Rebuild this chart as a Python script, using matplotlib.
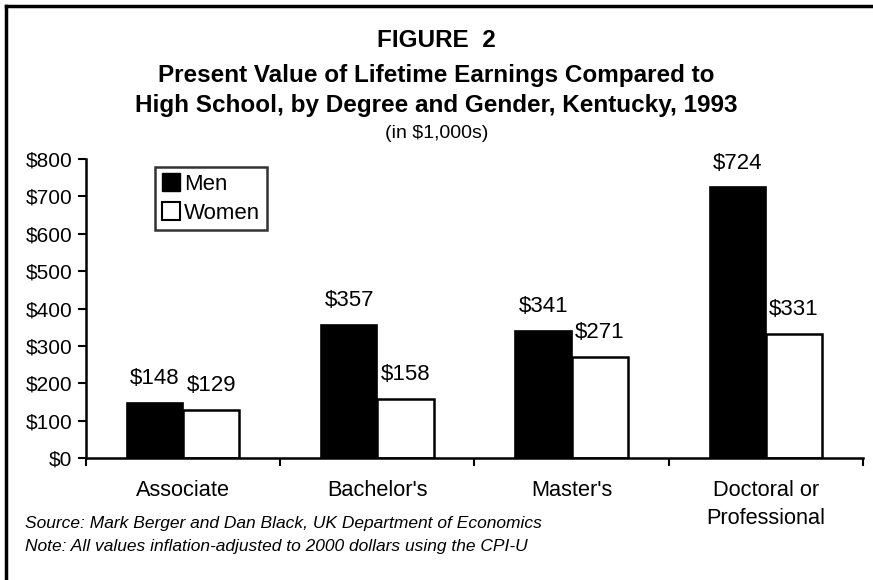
import numpy as np
import matplotlib
matplotlib.use("Agg")
import matplotlib.pyplot as plt
from matplotlib.lines import Line2D

plt.rcParams['font.family'] = ['Liberation Sans', 'DejaVu Sans']

degrees = ["Associate", "Bachelor's", "Master's", "Doctoral or\nProfessional"]
men = [148, 357, 341, 724]
women = [129, 158, 271, 331]
yticks = [0, 100, 200, 300, 400, 500, 600, 700, 800]

fig = plt.figure(figsize=(8.73, 5.8), dpi=100)
ax = fig.add_axes([86/873, 1 - 458/580, 777/873, 299/580])

x = np.arange(len(degrees))
w = 0.29
b1 = ax.bar(x - w/2, men, w, color='black', edgecolor='black', linewidth=1.2)
b2 = ax.bar(x + w/2, women, w, color='white', edgecolor='black', linewidth=1.8)

for bars in (b1, b2):
    for r in bars:
        ax.annotate(f"${r.get_height():.0f}", (r.get_x() + r.get_width()/2, r.get_height()),
                    xytext=(0, 10), textcoords='offset points', ha='center', va='bottom',
                    fontsize=16)

ax.set_xlim(-0.5, 3.5)
ax.set_ylim(0, 800)
ax.set_yticks(yticks)
ax.set_yticklabels([f"${v}" for v in yticks], fontsize=15)
ax.set_xticks(x)
ax.set_xticklabels(degrees, fontsize=15.7, linespacing=1.4, va='top')
ax.tick_params(axis='x', which='major', length=0, pad=16)
ax.set_xticks(np.arange(-0.5, 4, 1), minor=True)
ax.tick_params(axis='x', which='minor', length=6, width=1.5, direction='out')
ax.tick_params(axis='y', length=6, width=1.5, direction='out', pad=4)
for s in ('top', 'right'):
    ax.spines[s].set_visible(False)
for s in ('left', 'bottom'):
    ax.spines[s].set_linewidth(1.8)

handles = [Line2D([], [], marker='s', ls='', markersize=13, markerfacecolor='black', markeredgecolor='black'),
           Line2D([], [], marker='s', ls='', markersize=13, markerfacecolor='white', markeredgecolor='black', markeredgewidth=1.5)]
leg = ax.legend(handles, ["Men", "Women"], loc='upper left', bbox_to_anchor=(0.089, 0.973),
                borderaxespad=0, fontsize=16, frameon=True, fancybox=False, edgecolor='black',
                handlelength=0.8, handletextpad=0.2, borderpad=0.3, labelspacing=0.35)
leg.get_frame().set_linewidth(1.8)

fig.text(0.5, 1 - 47/580, "FIGURE  2", ha='center', va='baseline', fontsize=17.5, fontweight='bold')
fig.text(0.5, 1 - 82/580, "Present Value of Lifetime Earnings Compared to", ha='center', va='baseline',
         fontsize=17.5, fontweight='bold')
fig.text(0.5, 1 - 112/580, "High School, by Degree and Gender, Kentucky, 1993", ha='center', va='baseline',
         fontsize=17.5, fontweight='bold')
fig.text(0.5, 1 - 138/580, "(in $1,000s)", ha='center', va='baseline', fontsize=14)

fig.text(25/873, 1 - 528/580, "Source: Mark Berger and Dan Black, UK Department of Economics",
         fontsize=12.5, style='italic', va='baseline')
fig.text(25/873, 1 - 551/580, "Note: All values inflation-adjusted to 2000 dollars using the CPI-U",
         fontsize=12.5, style='italic', va='baseline')

# frame lines at top and left
fig.add_artist(Line2D([6/873, 6/873], [0, 1 - 6/580], color='black', lw=2.5, transform=fig.transFigure))
fig.add_artist(Line2D([6/873, 1], [1 - 6/580, 1 - 6/580], color='black', lw=2.5, transform=fig.transFigure))

fig.savefig("out.png", dpi=100)
